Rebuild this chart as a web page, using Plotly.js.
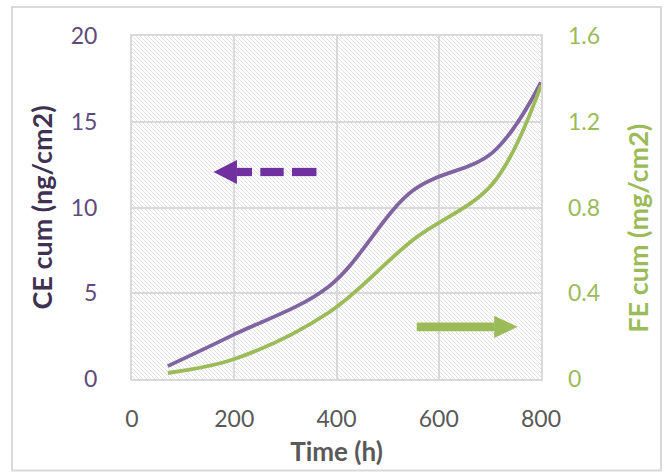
<!DOCTYPE html>
<html>
<head>
<meta charset="utf-8">
<script src="https://cdn.plot.ly/plotly-3.0.1.min.js"></script>
<style>html,body{margin:0;padding:0;background:#fff;}#chart{width:664px;height:476px;}</style>
</head>
<body>
<div id="chart"></div>
<script>
// ---- data ----
var timeH = [70, 200, 385, 550, 705, 800];
var ceCum = [0.75, 2.6, 5.4, 11.0, 13.2, 17.3];
var feCum = [0.028, 0.093, 0.31, 0.65, 0.91, 1.37];

var xTicks = [0, 200, 400, 600, 800];
var yTicks = [0, 5, 10, 15, 20];
var y2Ticks = [0, 0.4, 0.8, 1.2, 1.6];
var y2TickText = ['0', '0.4', '0.8', '1.2', '1.6'];

var FONT = 'Lato, "Open Sans", sans-serif';

// hatch background
var hatchSvg = '<svg xmlns="http://www.w3.org/2000/svg" width="409" height="343" viewBox="0 0 409 343" preserveAspectRatio="none">' +
  '<defs><pattern id="p" patternUnits="userSpaceOnUse" width="4" height="4">' +
  '<path d="M-1,-1 L5,5 M3,-1 L5,1 M-1,3 L1,5" stroke="#d4d4d4" stroke-width="0.7"/></pattern></defs>' +
  '<rect width="409" height="343" fill="url(#p)"/></svg>';
var hatchUri = 'data:image/svg+xml;charset=utf-8,' + encodeURIComponent(hatchSvg);

var traces = [
  {x: timeH, y: ceCum, type: 'scatter', mode: 'lines', name: 'CE cum',
   line: {color: '#8064a2', width: 3.8, shape: 'spline', smoothing: 1}, yaxis: 'y'},
  {x: timeH, y: feCum, type: 'scatter', mode: 'lines', name: 'FE cum',
   line: {color: '#9bbb59', width: 3.8, shape: 'spline', smoothing: 1}, yaxis: 'y2'}
];

var purple = '#7030a0', green = '#9bbb59';
var shapes = [
  // outer frame
  {type: 'rect', xref: 'paper', yref: 'paper', x0: -0.2934, x1: 1.2934, y0: -0.2668, y1: 1.0845,
   line: {color: '#d9d9d9', width: 2}, fillcolor: 'rgba(0,0,0,0)', layer: 'below'},
  // purple dashed arrow (points left to CE axis)
  {type: 'path', xref: 'x', yref: 'y', path: 'M159.4,12.07 L205.3,12.77 L205.3,11.37 Z', fillcolor: purple, line: {width: 0}},
  {type: 'rect', xref: 'x', yref: 'y', x0: 205, x1: 234.7, y0: 11.83, y1: 12.31, fillcolor: purple, line: {width: 0}},
  {type: 'rect', xref: 'x', yref: 'y', x0: 251, x1: 296.7, y0: 11.83, y1: 12.31, fillcolor: purple, line: {width: 0}},
  {type: 'rect', xref: 'x', yref: 'y', x0: 313, x1: 360.8, y0: 11.83, y1: 12.31, fillcolor: purple, line: {width: 0}},
  // green solid arrow (points right to FE axis)
  {type: 'rect', xref: 'x', yref: 'y', x0: 556.9, x1: 709, y0: 2.78, y1: 3.30, fillcolor: green, line: {width: 0}},
  {type: 'path', xref: 'x', yref: 'y', path: 'M754.3,3.04 L708.4,3.69 L708.4,2.39 Z', fillcolor: green, line: {width: 0}}
];

var layout = {
  width: 664, height: 476,
  margin: {l: 132, r: 123, t: 36, b: 97},
  paper_bgcolor: '#ffffff',
  plot_bgcolor: 'rgba(0,0,0,0)',
  showlegend: false,
  font: {family: FONT},
  images: [{source: hatchUri, xref: 'paper', yref: 'paper', x: 0, y: 1, sizex: 1, sizey: 1,
            xanchor: 'left', yanchor: 'top', sizing: 'stretch', layer: 'below'}],
  xaxis: {
    range: [0, 800], tickvals: xTicks, ticktext: xTicks.map(String),
    showgrid: true, gridcolor: '#d9d9d9', gridwidth: 2, zeroline: false,
    showline: true, linecolor: '#d9d9d9', linewidth: 2, mirror: true,
    ticks: '', ticklabelstandoff: 18,
    tickfont: {family: FONT, size: 23, color: '#595959'},
    title: {text: '<b>Time (h)</b>', font: {family: FONT, size: 26, color: '#595959'}, standoff: 12}
  },
  yaxis: {
    range: [0, 20], tickvals: yTicks, ticktext: yTicks.map(String),
    showgrid: true, gridcolor: '#d9d9d9', gridwidth: 2, zeroline: false,
    showline: true, linecolor: '#d9d9d9', linewidth: 2, mirror: true,
    ticks: '', ticklabelstandoff: 28,
    tickfont: {family: FONT, size: 23, color: '#604a7b'},
    title: {text: '<b>CE cum (ng/cm2)</b>', font: {family: FONT, size: 27, color: '#3f3151'}, standoff: 10}
  },
  yaxis2: {
    range: [0, 1.6], tickvals: y2Ticks, ticktext: y2TickText,
    overlaying: 'y', side: 'right', showgrid: false, zeroline: false, showline: false,
    ticks: '', ticklabelstandoff: 26,
    tickfont: {family: FONT, size: 23, color: '#9bbb59'}
  },
  annotations: [
    {text: '<b>FE cum (mg/cm2)</b>', xref: 'paper', yref: 'paper', x: 1.237, y: 0.441,
     xanchor: 'center', yanchor: 'middle', textangle: -90, showarrow: false,
     font: {family: FONT, size: 27, color: '#9bbb59'}}
  ],
  shapes: shapes
};

Plotly.newPlot('chart', traces, layout, {displayModeBar: false, staticPlot: true});
</script>
</body>
</html>
